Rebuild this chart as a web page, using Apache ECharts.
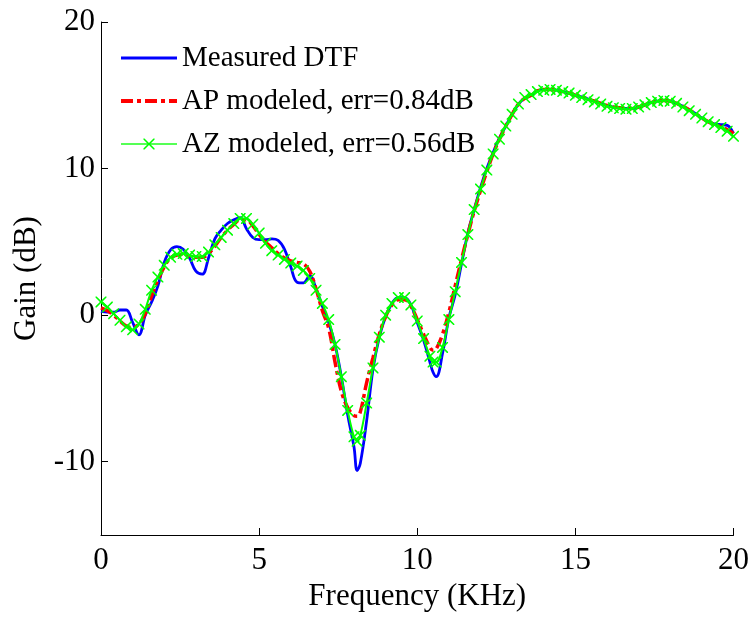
<!DOCTYPE html>
<html>
<head>
<meta charset="utf-8">
<script src="https://cdn.jsdelivr.net/npm/echarts@6/dist/echarts.min.js"></script>
<style>html,body{margin:0;padding:0;background:#fff}#c{width:752px;height:617px}</style>
</head>
<body>
<div id="c"></div>
<script>
// Frequency (kHz) sample points
var freq = [0,0.2,0.4,0.6,0.8,1.0,1.2,1.4,1.6,1.8,2.0,2.2,2.4,2.6,2.8,3.0,3.2,3.4,3.6,3.8,4.0,4.2,4.4,4.6,4.8,5.0,5.2,5.4,5.6,5.8,6.0,6.2,6.4,6.6,6.8,7.0,7.2,7.4,7.6,7.8,8.0,
  8.1,
  8.2,8.4,8.6,8.8,9.0,9.2,9.4,9.6,9.8,10.0,10.2,10.4,
  10.5,
  10.6,10.8,11.0,11.2,11.4,11.6,11.8,12.0,12.2,12.4,12.6,12.8,13.0,13.2,13.4,13.6,13.8,14.0,14.2,14.4,14.6,14.8,15.0,15.2,15.4,15.6,15.8,16.0,16.2,16.4,16.6,16.8,17.0,17.2,17.4,17.6,17.8,18.0,18.2,18.4,18.6,18.8,19.0,19.2,19.4,19.6,19.8,20.0];

var measured = [0.25,0.2,0.2,0.35,0.35,-0.5,-1.35,0.0,0.9,2.0,3.6,4.45,4.67,4.5,3.9,3.0,2.8,3.9,5.2,5.8,6.25,6.5,6.65,5.9,5.3,5.15,5.15,5.2,5.1,4.5,3.3,2.25,2.2,2.7,1.8,0.6,-0.5,-2.0,-4.2,-6.8,-9.0,
  -10.6,
  -10.1,-7.2,-3.7,-1.5,-0.1,0.8,1.2,1.2,0.7,-0.5,-1.7,-3.2,
  -3.9,
  -4.2,-2.6,-0.2,1.4,3.5,5.6,7.2,8.7,10.0,11.1,12.1,12.9,13.7,14.4,14.8,15.0,15.3,15.4,15.4,15.35,15.25,15.15,15.0,14.9,14.75,14.6,14.45,14.3,14.2,14.15,14.1,14.1,14.2,14.35,14.5,14.6,14.65,14.6,14.45,14.25,14.0,13.75,13.45,13.2,13.05,13.0,12.95,12.4];

var apModel = [0.5,0.3,0.0,-0.4,-0.75,-0.85,-0.6,0.1,1.3,2.4,3.3,3.9,4.1,4.15,4.05,3.95,3.95,4.2,4.7,5.3,5.8,6.2,6.5,6.5,6.1,5.5,5.0,4.6,4.2,3.9,3.7,3.6,3.5,3.0,1.8,0.3,-0.9,-3.2,-5.2,-6.3,-6.85,
  -6.9,
  -6.6,-4.6,-2.9,-1.3,-0.1,0.7,1.05,1.05,0.6,-0.3,-1.3,-2.2,
  -2.4,
  -2.3,-1.3,0.2,2.0,3.8,5.5,7.1,8.5,9.8,11.0,12.0,12.9,13.7,14.4,14.8,15.0,15.3,15.4,15.4,15.35,15.25,15.15,15.0,14.9,14.75,14.6,14.45,14.3,14.2,14.15,14.1,14.1,14.2,14.35,14.5,14.6,14.65,14.6,14.45,14.25,14.0,13.75,13.45,13.2,13.0,12.85,12.65,12.4];

var azModel = [0.9,0.55,0.1,-0.35,-0.8,-1.0,-0.6,0.4,1.7,2.6,3.4,3.95,4.15,4.2,4.1,4.0,4.0,4.3,4.8,5.3,5.8,6.25,6.6,6.6,6.2,5.6,4.9,4.4,4.1,3.8,3.55,3.35,3.05,2.5,1.7,0.8,-0.3,-2.0,-4.2,-6.5,-8.3,
  -8.6,
  -8.2,-6.0,-3.6,-1.5,0.0,0.8,1.2,1.2,0.7,-0.4,-1.6,-2.8,
  -3.2,
  -3.2,-2.2,-0.3,1.6,3.6,5.5,7.2,8.6,9.9,11.0,12.0,12.9,13.7,14.4,14.85,15.05,15.25,15.35,15.4,15.35,15.25,15.15,15.0,14.85,14.7,14.55,14.4,14.25,14.15,14.1,14.05,14.1,14.2,14.35,14.5,14.6,14.65,14.6,14.45,14.2,13.95,13.7,13.45,13.2,13.0,12.8,12.55,12.2];

var yTicks = [-10, 0, 10, 20];
var seriesNames = ['Measured DTF', 'AP modeled, err=0.84dB', 'AZ modeled, err=0.56dB'];

function pairs(ys){ return freq.map(function(f,i){ return [f, ys[i]]; }); }

var FONT = 'Liberation Serif';
var xMark = 'path://M0,0L2,0L10,8L18,0L20,0L20,2L12,10L20,18L20,20L18,20L10,12L2,20L0,20L0,18L8,10L0,2Z';
var hidden = {color: 'rgba(255,255,255,0)', borderColor: 'rgba(255,255,255,0)', borderWidth: 0};

var chart = echarts.init(document.getElementById('c'), null, {renderer:'canvas'});
chart.setOption({
  animation: false,
  backgroundColor: '#fff',
  grid: {left: 101, right: 16, top: 22, bottom: 82, containLabel: false},
  legend: {
    orient: 'vertical', left: 114, top: 38,
    itemWidth: 56, itemHeight: 14, itemGap: 13,
    textStyle: {fontFamily: FONT, fontSize: 29, color: '#000', lineHeight: 30},
    data: [
      {name: seriesNames[0], itemStyle: hidden, lineStyle: {color: '#0000ff', width: 3}},
      {name: seriesNames[1], itemStyle: hidden, lineStyle: {color: '#ff0000', width: 4, type: [12, 4, 4, 4]}},
      {name: seriesNames[2], lineStyle: {color: '#55ff55', width: 2}}
    ]
  },
  xAxis: {
    type: 'value', min: 0, max: 20, interval: 5,
    name: 'Frequency (KHz)', nameLocation: 'middle', nameGap: 46,
    nameTextStyle: {fontFamily: FONT, fontSize: 31, color: '#000'},
    axisLine: {onZero: false, lineStyle: {color: '#000', width: 1}},
    axisTick: {inside: true, length: 7, lineStyle: {color: '#000'}},
    axisLabel: {fontFamily: FONT, fontSize: 31, color: '#000', margin: 10},
    splitLine: {show: false}
  },
  yAxis: {
    type: 'value', min: -15, max: 20,
    name: 'Gain (dB)', nameLocation: 'middle', nameGap: 53, nameRotate: 90,
    nameTextStyle: {fontFamily: FONT, fontSize: 31, color: '#000'},
    axisLine: {show: true, onZero: false, lineStyle: {color: '#000', width: 1}},
    axisTick: {show: true, inside: true, length: 7, customValues: yTicks, lineStyle: {color: '#000'}},
    axisLabel: {fontFamily: FONT, fontSize: 31, color: '#000', margin: 6, customValues: yTicks},
    splitLine: {show: false}
  },
  series: [
    {
      name: seriesNames[0], type: 'line', data: pairs(measured),
      symbol: 'none', smooth: 0.4,
      itemStyle: {color: '#0000ff'},
      lineStyle: {color: '#0000ff', width: 2.8}
    },
    {
      name: seriesNames[1], type: 'line', data: pairs(apModel),
      symbol: 'none', smooth: 0.4,
      itemStyle: {color: '#ff0000'},
      lineStyle: {color: '#ff0000', width: 3.5, type: [12, 4, 4, 4]}
    },
    {
      name: seriesNames[2], type: 'line', data: pairs(azModel),
      symbol: xMark, symbolSize: 11, showAllSymbol: true, smooth: 0.4,
      itemStyle: {color: '#00ff00'},
      lineStyle: {color: '#00ff00', width: 2}
    }
  ]
});
</script>
</body>
</html>
